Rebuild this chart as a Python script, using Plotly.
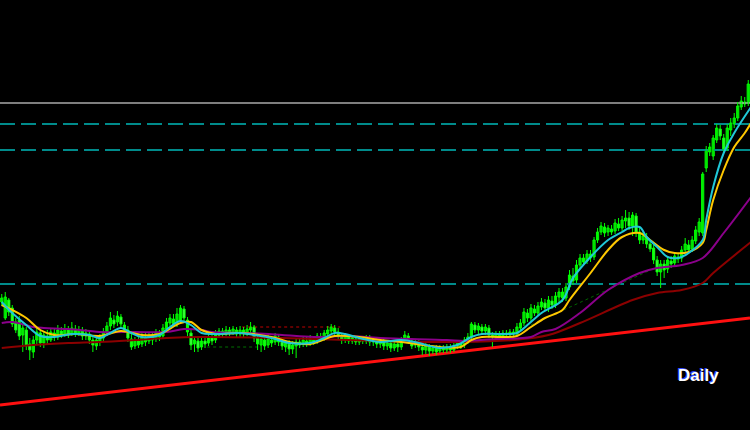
import plotly.graph_objects as go

# ---------------- data (price units, arbitrary scale) ----------------
open_ = [128,112,130,122,108,110,95,100,86,78,90,97,
         87,94,90,97,93,99,95,100,96,101,97,99,94,96,90,84,89,
         92,97,104,110,108,113,105,
         100,91,84,89,86,92,89,93,91,96,
         94,101,107,111,107,110,121,
         110,97,86,89,83,89,87,92,90,
         95,99,96,100,97,100,96,100,97,100,
         103,92,85,90,85,90,88,93,88,83,86,81,84,88,
         86,89,87,90,89,93,92,96,99,102,98,
         94,90,93,89,91,88,91,89,92,88,90,86,89,84,87,82,86,83,
         90,94,89,85,88,83,80,83,79,82,79,82,80,83,80,84,87,85,89,
         93,105,100,103,99,102,95,93,96,94,97,95,98,96,102,
         107,117,112,121,117,123,127,122,129,125,
         133,138,132,143,154,150,165,172,169,176,173,190,198,
         203,198,201,199,206,202,209,212,204,214,198,
         190,193,186,182,170,158,166,161,169,167,173,172,180,185,181,189,198,
         197,262,278,274,290,301,292,282,300,306,312,323,328,327]
high = [136,138,132,125,112,114,105,103,92,94,102,100,
        99,100,102,101,105,103,106,104,108,105,104,103,101,100,94,94,96,
        102,108,118,115,119,116,108,
        104,96,93,94,97,97,98,98,101,100,
        106,112,116,116,122,125,124,
        113,100,93,94,92,94,97,96,100,
        102,102,104,103,104,103,104,103,105,108,
        105,96,94,94,95,94,97,96,92,90,90,89,92,92,
        94,93,95,94,97,97,100,104,106,105,102,
        97,97,96,95,94,94,94,95,95,93,93,92,92,90,90,89,89,93,
        99,97,92,91,91,87,87,86,85,85,85,85,86,86,87,90,90,93,97,
        108,108,107,106,106,105,98,99,99,100,100,101,101,107,111,
        122,121,126,125,128,132,131,134,134,138,
        142,142,147,160,162,170,176,176,180,180,193,202,208,
        207,205,205,211,212,214,220,218,218,217,202,
        198,197,190,185,174,170,170,174,174,178,177,184,192,190,194,204,212,
        258,284,287,295,306,305,296,306,312,317,328,334,333,350]
low = [124,110,114,103,97,90,78,80,70,72,85,83,
       82,86,88,89,90,92,93,92,94,93,94,90,90,86,78,80,84,
       88,94,100,102,104,102,97,
       88,80,81,82,83,84,86,85,88,89,
       91,98,104,103,103,108,108,
       94,80,78,78,80,82,84,85,87,
       92,93,94,94,95,92,93,92,94,96,
       88,80,78,80,82,83,85,84,80,78,75,76,72,82,
       83,83,84,85,86,88,89,93,95,95,91,
       86,87,86,86,85,85,86,86,84,84,82,82,80,80,78,79,78,80,
       87,86,81,82,79,75,76,74,76,75,77,77,77,77,78,81,81,82,86,
       91,97,96,96,95,92,83,90,92,92,92,93,93,94,99,
       104,108,109,114,114,120,119,118,121,122,
       128,128,129,140,145,147,162,164,166,168,170,187,195,
       193,194,195,196,199,199,202,200,194,193,186,
       186,182,178,166,154,142,152,157,162,164,167,168,177,177,178,186,194,
       194,258,274,270,287,290,278,279,294,302,309,320,323,324]
close = [132,133,118,106,100,94,102,84,80,90,98,87,
         95,90,98,93,100,95,101,96,102,97,100,94,97,90,85,90,92,
         98,104,112,106,114,106,100,
         92,83,90,85,93,88,94,90,97,93,
         102,108,112,106,116,122,112,
         98,85,90,82,89,86,93,89,96,
         99,96,100,97,101,96,100,97,101,103,
         92,86,91,84,91,87,94,88,84,87,81,85,88,85,
         90,86,91,88,94,91,97,100,103,98,94,
         90,94,89,92,88,91,89,92,88,90,86,89,84,87,82,86,83,90,
         95,90,84,88,83,80,84,79,82,78,82,80,83,80,84,87,84,90,93,
         106,100,104,99,103,95,93,96,94,97,95,98,96,103,107,
         118,112,122,117,124,128,122,130,125,134,
         138,132,143,155,149,165,172,168,176,172,190,198,204,
         197,202,198,207,202,210,212,204,215,198,190,
         194,186,181,170,158,166,160,170,166,174,171,180,186,180,190,200,208,
         256,280,283,292,302,294,281,302,307,312,324,329,326,346]
bars = list(range(len(close)))

# moving averages (bar index, value)
ma_fast_x = [0,3,7,11,15,20,25,28,31,34,37,40,45,48,51,54,57,61,68,72,77,82,88,92,95,98,102,108,114,119,125,130,134,137,142,147,150,154,160,163,168,173,177,179,182,184,187,190,193,196,200,201,203,206,209,213.8]
ma_fast_y = [128,117,105,94,93,96,95,92,97,102,97,93,95,103,109,105,97,96,97,95,92,87,87,92,97,96,92,88,90,87,82,85,93,96,96,97,105,117,130,152,173,190,198,202,203,193,183,173,172,177,190,210,243,277,297,323]
ma_mid_x = [0,3,7,11,15,21,28,34,40,45,51,54,57,61,68,77,82,88,95,102,108,114,125,131,134,137,142,147,151,155,160,162,168,173,177,182,185,189,192,196,200,201,203,206,209,212,213.8]
ma_mid_y = [125,120,112,100,95,96,94,99,95,96,107,108,100,96,97,93,88,86,94,93,90,88,83,83,90,93,93,94,103,112,120,130,157,180,193,197,190,180,177,178,187,200,230,260,283,297,307]
ma_slow_x = [0,3,9,12,19,28,38,47,52,57,60,70,80,89,99,108,127,132,141,151,154,158,165,173,182,187,194,200,206,213.8]
ma_slow_y = [107,108,103,102,101,98,98,98,101,100,98,97,95,93,94,92,90,89,91,93,98,101,117,140,157,162,165,172,197,233]
ma_long_x = [0,9,19,28,38,47,57,80,108,131,146,156,165,180,187,194,200,203,213.8]
ma_long_y = [82,85,87,88,90,92,93,92,89,88,90,95,107,130,137,140,147,157,188]

# horizontal levels
level_resist = 327
level_teal = [306, 280, 146]
# trend line end values
trend_x = [-0.5, 213.5]
trend_y = [25, 112]
# short dotted segments
red_dot_x, red_dot_y = [68.6, 96.6], [103, 103]
grn_dot_x, grn_dot_y = [58.6, 73.2], [83, 83]
grn_diag_x, grn_diag_y = [151, 187], [105, 163]

# ---------------- figure ----------------
fig = go.Figure()
xr = [-0.5, 213.5]

for lv in level_teal:
    fig.add_trace(go.Scatter(x=xr, y=[lv, lv], mode="lines",
                             line=dict(color="#008b8b", width=2, dash="15px,6px"),
                             hoverinfo="skip"))
fig.add_trace(go.Scatter(x=xr, y=[level_resist, level_resist], mode="lines",
                         line=dict(color="#a8a8a8", width=1.3), hoverinfo="skip"))
fig.add_trace(go.Scatter(x=red_dot_x, y=red_dot_y, mode="lines",
                         line=dict(color="#c00000", width=1, dash="3px,3px"), hoverinfo="skip"))
fig.add_trace(go.Scatter(x=grn_dot_x, y=grn_dot_y, mode="lines",
                         line=dict(color="#007000", width=1, dash="3px,3px"), hoverinfo="skip"))
fig.add_trace(go.Scatter(x=grn_diag_x, y=grn_diag_y, mode="lines",
                         line=dict(color="#006400", width=1, dash="3px,3px"), hoverinfo="skip"))
fig.add_trace(go.Scatter(x=trend_x, y=trend_y, mode="lines",
                         line=dict(color="#ff1010", width=3), hoverinfo="skip"))

# candles: wicks + bodies
wx, wy = [], []
for i in bars:
    wx += [i, i, None]
    wy += [low[i], high[i], None]
fig.add_trace(go.Scatter(x=wx, y=wy, mode="lines", line=dict(color="#00ff00", width=1),
                         hoverinfo="skip"))
for up, fill in ((True, "#00a000"), (False, "#a8ffa8")):
    idx = [i for i in bars if (close[i] >= open_[i]) == up]
    fig.add_trace(go.Bar(
        x=idx,
        base=[min(open_[i], close[i]) for i in idx],
        y=[max(abs(close[i] - open_[i]), 1) for i in idx],
        width=0.62,
        marker=dict(color=fill, line=dict(color="#00ff00", width=1)),
        hoverinfo="skip"))

fig.add_trace(go.Scatter(x=ma_long_x, y=ma_long_y, mode="lines",
                         line=dict(color="#8b0000", width=2, shape="spline"), hoverinfo="skip"))
fig.add_trace(go.Scatter(x=ma_slow_x, y=ma_slow_y, mode="lines",
                         line=dict(color="#8b008b", width=2, shape="spline"), hoverinfo="skip"))
fig.add_trace(go.Scatter(x=ma_mid_x, y=ma_mid_y, mode="lines",
                         line=dict(color="#ffc800", width=2, shape="spline"), hoverinfo="skip"))
fig.add_trace(go.Scatter(x=ma_fast_x, y=ma_fast_y, mode="lines",
                         line=dict(color="#20c8d8", width=2, shape="spline"), hoverinfo="skip"))

for dx, col in ((-1, "#3048ff"), (0, "#ffffff")):
    fig.add_annotation(x=0.931, y=0.126, xref="paper", yref="paper", text="<b>Daily</b>",
                       showarrow=False, xanchor="center", yanchor="middle",
                       xshift=dx, yshift=-dx,
                       font=dict(family="Liberation Sans, Arial", size=17, color=col))

fig.update_layout(
    width=750, height=430, margin=dict(l=0, r=0, t=0, b=0),
    paper_bgcolor="#000000", plot_bgcolor="#000000", showlegend=False,
    barmode="overlay",
    xaxis=dict(range=xr, visible=False, fixedrange=True),
    yaxis=dict(range=[0, 430], visible=False, fixedrange=True),
)
fig.write_html("out.html", config={"displayModeBar": False},
               post_script="document.body.style.margin='0';document.body.style.overflow='hidden';document.body.style.background='#000';")
